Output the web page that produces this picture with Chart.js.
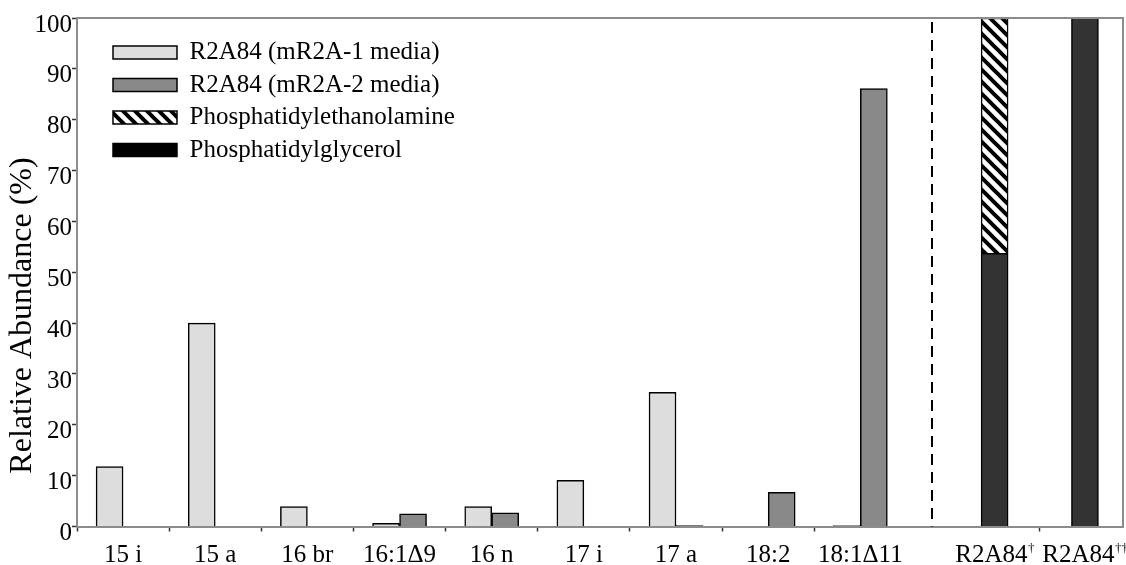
<!DOCTYPE html>
<html>
<head>
<meta charset="utf-8">
<script src="https://cdn.jsdelivr.net/npm/chart.js@4.4.1/dist/chart.umd.min.js"></script>
<style>
  html, body { margin: 0; padding: 0; background: #ffffff; }
  #wrap { width: 1126px; height: 565px; position: relative; }
</style>
</head>
<body>
<div id="wrap"><canvas id="chart"></canvas></div>
<script>
// Fatty acid categories followed by the two whole-lipid columns
const categories = ['15 i', '15 a', '16 br', '16:1Δ9', '16 n', '17 i', '17 a', '18:2', '18:1Δ11', 'R2A84†', 'R2A84††'];

// Fatty acid relative abundance (%) for each growth medium
const mR2A1 = [11.8, 40.0, 3.9, 0.6, 3.9, 9.1, 26.4, 0, 0.2, null, null];
const mR2A2 = [0, 0, 0, 2.5, 2.7, 0, 0.2, 6.7, 86.1, null, null];

// Phospholipid composition (%) of the two lipid columns
const phosphatidylglycerol = [null, null, null, null, null, null, null, null, null, 53.7, 100];
const phosphatidylethanolamine = [null, null, null, null, null, null, null, null, null, 46.3, null];

// Value-axis ticks
const yTicks = [0, 10, 20, 30, 40, 50, 60, 70, 80, 90, 100];

// Layout of the index axis (in fatty-acid slot units)
const fattyAcidCount = 9;
const lipidStart = 9.957;
const lipidStep = 0.98;
const separatorAt = 9.277;
const xMax = 11.35;
const xPos = categories.map((_, i) => i < fattyAcidCount ? i + 0.5 : lipidStart + (i - fattyAcidCount) * lipidStep);

const SERIF = '"Liberation Serif", "Times New Roman", serif';
const LABEL_SIZE = 25;
const SUP_SIZE = 13;
Chart.defaults.font.family = SERIF;
Chart.defaults.color = '#000';

function hatchPattern() {
  const size = 12;
  const c = document.createElement('canvas');
  c.width = size; c.height = size;
  const g = c.getContext('2d');
  g.fillStyle = '#ffffff';
  g.fillRect(0, 0, size, size);
  g.strokeStyle = '#000000';
  g.lineWidth = 4;
  g.beginPath();
  g.moveTo(-2, -2); g.lineTo(size + 2, size + 2);
  g.moveTo(-size / 2 - 2, size / 2 - 2); g.lineTo(size / 2 + 2, size * 1.5 + 2);
  g.moveTo(size / 2 - 2, -size / 2 - 2); g.lineTo(size * 1.5 + 2, size / 2 + 2);
  g.stroke();
  return g.createPattern(c, 'repeat');
}

const toPoints = arr => arr.map((y, i) => ({ x: xPos[i], y }));

const legendRank = [0, 1, 3, 2];

// Plot frame on the top and right edges
const framePlugin = {
  id: 'frame',
  afterDatasetsDraw(chart) {
    const { ctx, chartArea: a } = chart;
    ctx.save();
    ctx.strokeStyle = '#8c8c8c';
    ctx.lineWidth = 2;
    ctx.beginPath();
    ctx.moveTo(a.left, a.top);
    ctx.lineTo(a.right, a.top);
    ctx.lineTo(a.right, a.bottom);
    ctx.stroke();
    ctx.restore();
  }
};

// Dashed separator between the fatty acids and the lipid columns
const separatorPlugin = {
  id: 'separator',
  afterDatasetsDraw(chart) {
    const { ctx, chartArea: a } = chart;
    const x = Math.round(chart.scales.x.getPixelForValue(separatorAt));
    ctx.save();
    ctx.strokeStyle = '#000';
    ctx.lineWidth = 2;
    ctx.setLineDash([11, 7]);
    ctx.beginPath();
    ctx.moveTo(x, a.top + 4);
    ctx.lineTo(x, a.bottom);
    ctx.stroke();
    ctx.restore();
  }
};

// Category labels, with trailing daggers set as superscripts
const categoryLabelPlugin = {
  id: 'categoryLabels',
  afterDraw(chart) {
    const { ctx, chartArea: a } = chart;
    const xs = chart.scales.x;
    const baseY = a.bottom + 35.5;
    ctx.save();
    ctx.fillStyle = '#000';
    ctx.textBaseline = 'alphabetic';
    ctx.textAlign = 'left';
    categories.forEach((label, i) => {
      const m = label.match(/^(.*?)(†*)$/);
      const base = m[1], sup = m[2];
      const cx = xs.getPixelForValue(xPos[i]);
      ctx.font = LABEL_SIZE + 'px ' + SERIF;
      const wb = ctx.measureText(base).width;
      ctx.font = SUP_SIZE + 'px ' + SERIF;
      const ws = sup ? ctx.measureText(sup).width : 0;
      const left = cx - (wb + ws) / 2;
      ctx.font = LABEL_SIZE + 'px ' + SERIF;
      ctx.fillText(base, left, baseY);
      if (sup) {
        ctx.font = SUP_SIZE + 'px ' + SERIF;
        ctx.fillText(sup, left + wb + 0.5, baseY - 10);
      }
    });
    ctx.restore();
  }
};

// Rotated value-axis title
const yTitlePlugin = {
  id: 'yTitle',
  afterDraw(chart) {
    const { ctx } = chart;
    const y = chart.scales.y.getPixelForValue(41.5);
    ctx.save();
    ctx.translate(23, y);
    ctx.rotate(-Math.PI / 2);
    ctx.font = '32px ' + SERIF;
    ctx.fillStyle = '#000';
    ctx.textAlign = 'center';
    ctx.textBaseline = 'middle';
    ctx.fillText('Relative Abundance (%)', 0, 0);
    ctx.restore();
  }
};

// Places the in-plot legend in the upper left of the plot
const legendPlacePlugin = {
  id: 'legendPlace',
  afterLayout(chart) {
    const lg = chart.legend;
    if (lg) {
      lg.left = chart.chartArea.left + 28.5;
      lg.top = chart.chartArea.top + 14.5;
    }
  }
};

const barCommon = { borderColor: '#000000', borderWidth: 1.5, barThickness: 27, skipNull: true };

new Chart(document.getElementById('chart'), {
  type: 'bar',
  data: {
    datasets: [
      Object.assign({ label: 'R2A84 (mR2A-1 media)', data: toPoints(mR2A1), backgroundColor: '#dddddd', stack: 'a' }, barCommon),
      Object.assign({ label: 'R2A84 (mR2A-2 media)', data: toPoints(mR2A2), backgroundColor: '#898989', stack: 'b' }, barCommon),
      Object.assign({ label: 'Phosphatidylglycerol', data: toPoints(phosphatidylglycerol), backgroundColor: '#333333', stack: 'c' }, barCommon),
      Object.assign({ label: 'Phosphatidylethanolamine', data: toPoints(phosphatidylethanolamine), backgroundColor: hatchPattern(), stack: 'c' }, barCommon)
    ]
  },
  options: {
    responsive: true,
    maintainAspectRatio: false,
    animation: false,
    devicePixelRatio: 1,
    layout: { padding: { top: 18, right: 3, left: 0, bottom: 0 } },
    plugins: {
      tooltip: { enabled: false },
      legend: {
        position: 'chartArea',
        align: 'start',
        labels: {
          font: { family: SERIF, size: LABEL_SIZE },
          color: '#000',
          boxWidth: 64,
          boxHeight: 13,
          padding: 7.5,
          sort: (a, b) => legendRank[a.datasetIndex] - legendRank[b.datasetIndex],
          generateLabels(chart) {
            const items = Chart.defaults.plugins.legend.labels.generateLabels(chart);
            items.forEach(it => {
              if (it.datasetIndex === 2) it.fillStyle = '#000000';
            });
            return items;
          }
        }
      }
    },
    scales: {
      x: {
        type: 'linear',
        min: 0,
        max: xMax,
        offset: false,
        afterBuildTicks(scale) {
          scale.ticks = xPos.map(v => ({ value: v }));
        },
        afterFit(scale) {
          scale.height = 38.5;
          scale.paddingLeft = 0;
          scale.paddingRight = 0;
        },
        ticks: { display: false, autoSkip: false },
        grid: {
          offset: true,
          drawOnChartArea: false,
          drawTicks: true,
          tickLength: 5,
          tickWidth: 1.5,
          tickColor: ctx => ctx.index === fattyAcidCount ? 'rgba(0,0,0,0)' : '#333333'
        },
        border: { color: '#8c8c8c', width: 2 }
      },
      y: {
        type: 'linear',
        min: 0,
        max: 100,
        afterBuildTicks(scale) {
          scale.ticks = yTicks.map(v => ({ value: v }));
        },
        afterFit(scale) {
          scale.width = 77;
        },
        ticks: {
          font: { family: SERIF, size: LABEL_SIZE },
          color: '#000',
          padding: 0,
          labelOffset: 7
        },
        grid: {
          drawOnChartArea: false,
          drawTicks: true,
          tickLength: 5,
          tickWidth: 1.5,
          tickColor: '#333333'
        },
        border: { color: '#8c8c8c', width: 2 }
      }
    }
  },
  plugins: [framePlugin, separatorPlugin, categoryLabelPlugin, yTitlePlugin, legendPlacePlugin]
});
</script>
</body>
</html>
